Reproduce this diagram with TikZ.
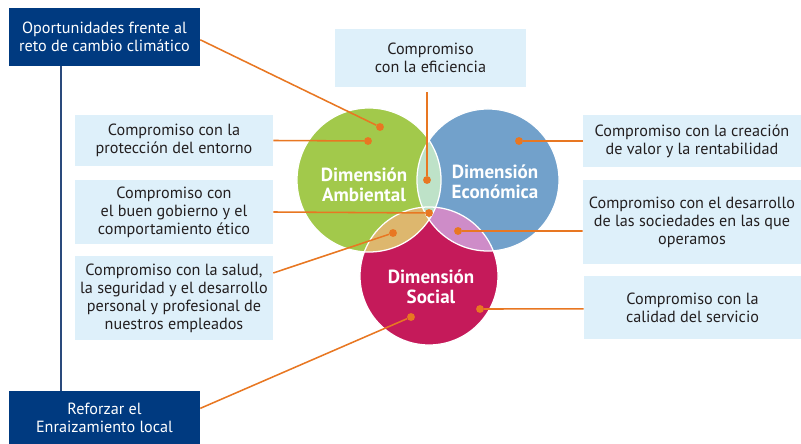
\documentclass[tikz,border=0pt]{standalone}
\usepackage{fontspec}
\setmainfont{PT Sans}
\usetikzlibrary{positioning}
\definecolor{navy}{HTML}{003A80}
\definecolor{linenavy}{HTML}{2A4A7C}
\definecolor{paleblue}{HTML}{DEF0FA}
\definecolor{inkgray}{HTML}{231F20}
\definecolor{dotorange}{HTML}{E87722}
\definecolor{ambgreen}{HTML}{A2C94B}
\definecolor{ecoblue}{HTML}{72A1CB}
\definecolor{socred}{HTML}{C51A5A}
\definecolor{lensmint}{HTML}{BEE2C8}
\definecolor{lenstan}{HTML}{DDB76E}
\definecolor{lenspink}{HTML}{CE8CC8}
\tikzset{
    opbox/.style = {rectangle, fill=navy, text=white, align=center, inner sep=0, minimum width=4.775cm, font=\fontsize{11.5}{12.8}\selectfont},
    combox/.style = {rectangle, fill=paleblue, text=inkgray, align=center, inner sep=0, font=\fontsize{11.5}{12.8}\selectfont},
    dimlabel/.style = {align=center, text=white, font=\fontsize{13.5}{14}\selectfont\bfseries},
    orangedot/.style = {circle, fill=dotorange, inner sep=0, minimum size=5.6pt},
    edgeo/.style = {-, line width=1.1pt, dotorange},
    edgenavy/.style = {-, line width=1.2pt, linenavy},
    rim/.style = {draw=white, line width=0.9pt}
}

\begin{document}
\begin{tikzpicture}[x=0.025cm, y=-0.025cm]
\useasboundingbox (0,0) rectangle (801,444);

% the three dimensions
\coordinate (amb) at (369,180);
\coordinate (eco) at (488,180);
\coordinate (soc) at (429,276);
\fill[ambgreen] (amb) circle[radius=1.8cm];
\fill[ecoblue] (eco) circle[radius=1.775cm];
\fill[socred] (soc) circle[radius=1.725cm];
\begin{scope}
  \clip (amb) circle[radius=1.8cm];
  \fill[lenstan] (soc) circle[radius=1.725cm];
\end{scope}
\begin{scope}
  \clip (eco) circle[radius=1.775cm];
  \fill[lenspink] (soc) circle[radius=1.725cm];
\end{scope}
\begin{scope}
  \clip (amb) circle[radius=1.8cm];
  \clip (eco) circle[radius=1.775cm];
  \fill[lensmint] (soc) ++(0,-200) rectangle ++(200,300) (soc) ++(0,-200) rectangle ++(-200,300);
\end{scope}
\draw[rim] (amb) circle[radius=1.8cm];
\draw[rim] (eco) circle[radius=1.775cm];
\draw[rim] (soc) circle[radius=1.725cm];

\node[dimlabel] (lamb) at (364,185) {Dimensión\\Ambiental};
\node[dimlabel] (leco) at (495,182) {Dimensión\\Económica};
\node[dimlabel] (lsoc) at (431,287) {Dimensión\\Social};

% boxes
\node[opbox, minimum height=1.45cm] (opor) at (104.5,37) {Oportunidades frente al\\reto de cambio climático};
\node[opbox, minimum height=1.325cm] (refo) at (104.5,417.5) {Reforzar el\\Enraizamiento local};

\node[combox, minimum width=4.775cm, minimum height=1.45cm] (efic) at (430.5,58) {Compromiso\\con la eficiencia};

\node[combox, minimum width=4.95cm, minimum height=1.275cm] (prot) at (174,140.5) {Compromiso con la\\protección del entorno};
\node[combox, minimum width=4.95cm, minimum height=1.6cm] (gobi) at (174,212) {Compromiso con\\el buen gobierno y el\\comportamiento ético};
\node[combox, minimum width=4.95cm, minimum height=2.1cm] (salu) at (174,298) {Compromiso con la salud,\\la seguridad y el desarrollo\\personal y profesional de\\nuestros empleados};

\node[combox, minimum width=5.45cm, minimum height=1.3cm] (valo) at (692,141) {Compromiso con la creación\\de valor y la rentabilidad};
\node[combox, minimum width=5.45cm, minimum height=2.1cm] (soci) at (692,222) {Compromiso con el desarrollo\\de las sociedades en las que\\operamos};
\node[combox, minimum width=5.425cm, minimum height=1.575cm] (serv) at (692.5,307.5) {Compromiso con la\\calidad del servicio};

% dots
\node[orangedot] (dopor) at (380,127) {};
\node[orangedot] (dprot) at (368,141) {};
\node[orangedot] (defic) at (427,180) {};
\node[orangedot] (dvalo) at (519,141) {};
\node[orangedot] (dgobi) at (429,213) {};
\node[orangedot] (dsalu) at (393,233) {};
\node[orangedot] (dsoci) at (458,231) {};
\node[orangedot] (dserv) at (480,309) {};
\node[orangedot] (drefo) at (411,317) {};

% connectors
\draw[edgenavy] ([xshift=1.3cm]opor.south west) -- ([xshift=1.3cm]refo.north west);
\draw[edgeo] ([yshift=-2pt]opor.east) -- (dopor);
\draw[edgeo] ([yshift=6.5pt]refo.east) -- (drefo);
\draw[edgeo, shorten <=3.5pt] (defic |- efic.south) -- (defic);
\draw[edgeo] (prot.east) -- (dprot);
\draw[edgeo] (gobi.east) -- (dgobi);
\draw[edgeo] ([yshift=17.8pt]salu.east) -- (dsalu);
\draw[edgeo] (valo.west) -- (dvalo);
\draw[edgeo] ([yshift=-6.4pt]soci.west) -- (dsoci);
\draw[edgeo] ([yshift=-1pt]serv.west) -- (dserv);

\end{tikzpicture}
\end{document}
